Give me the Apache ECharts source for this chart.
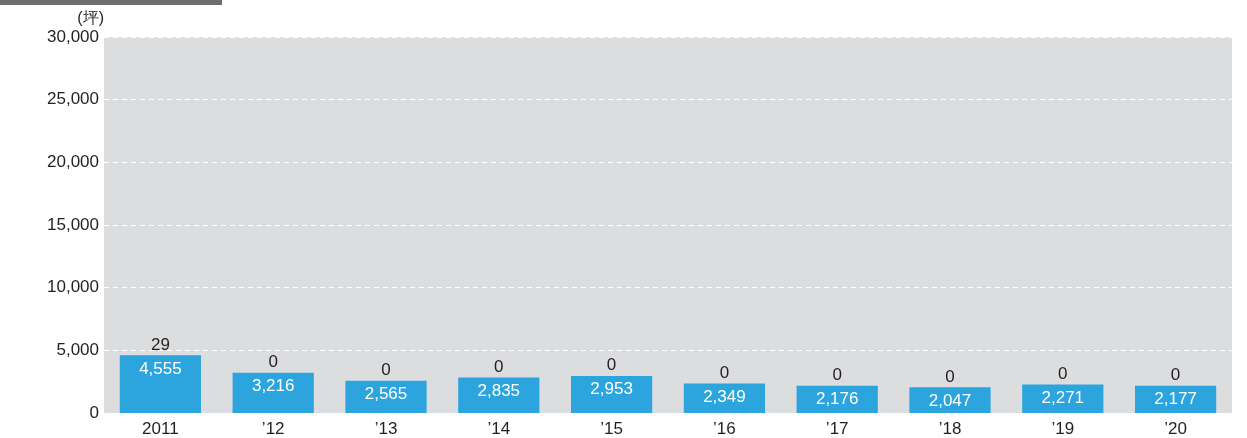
<!DOCTYPE html>
<html><head><meta charset="utf-8">
<script src="https://cdn.jsdelivr.net/npm/echarts@6/dist/echarts.min.js"></script>
<style>html,body{margin:0;padding:0;background:#fff}#c{width:1247px;height:438px}</style>
</head><body><div id="c"></div>
<script>
const categories = ['2011', '’12', '’13', '’14', '’15', '’16', '’17', '’18', '’19', '’20'];
const mainValues = [4555, 3216, 2565, 2835, 2953, 2349, 2176, 2047, 2271, 2177];
const extraValues = [29, 0, 0, 0, 0, 0, 0, 0, 0, 0];
const yTicks = { min: 0, max: 30000, interval: 5000 };
const unitLabel = '(坪)';

const font = '"Liberation Sans", Arial, Helvetica, sans-serif';
const chart = echarts.init(document.getElementById('c'));
chart.setOption({
  animation: false,
  graphic: [{ type: 'rect', left: 0, top: 0, shape: { width: 222, height: 5 }, style: { fill: '#6d6e71' } }],
  grid: { left: 104, right: 15, top: 37, bottom: 23, show: true, backgroundColor: '#dcdddf', borderWidth: 0, containLabel: false },
  xAxis: {
    type: 'category', data: categories,
    axisLine: { show: false }, axisTick: { show: false },
    axisLabel: { color: '#231f20', fontSize: 17, fontFamily: font, margin: 8 }
  },
  yAxis: {
    type: 'value', min: yTicks.min, max: yTicks.max, interval: yTicks.interval,
    name: unitLabel, nameLocation: 'end', nameGap: 10,
    nameTextStyle: { color: '#231f20', fontSize: 16, fontFamily: font, align: 'right', padding: [0, 0, 0, 0] },
    axisLine: { show: false },
    axisTick: { show: true, length: 4, inside: true, lineStyle: { color: '#ffffff' } },
    splitLine: { show: true, lineStyle: { color: '#ffffff', type: [5, 4], width: 1 } },
    axisLabel: { color: '#231f20', fontSize: 17, fontFamily: font, margin: 5,
      formatter: v => v.toLocaleString('en-US') }
  },
  series: [
    {
      type: 'bar', stack: 's', data: mainValues, barWidth: '72%',
      itemStyle: { color: '#2ca5de' },
      label: { show: true, position: 'insideTop', distance: 5, color: '#ffffff', fontSize: 17, fontFamily: font,
        formatter: p => p.value.toLocaleString('en-US') }
    },
    {
      type: 'bar', stack: 's', data: extraValues, barWidth: '72%',
      itemStyle: { color: '#c1272d' },
      label: { show: true, position: 'top', distance: 2, color: '#231f20', fontSize: 17, fontFamily: font,
        formatter: p => p.value.toLocaleString('en-US') }
    }
  ]
});
</script></body></html>
